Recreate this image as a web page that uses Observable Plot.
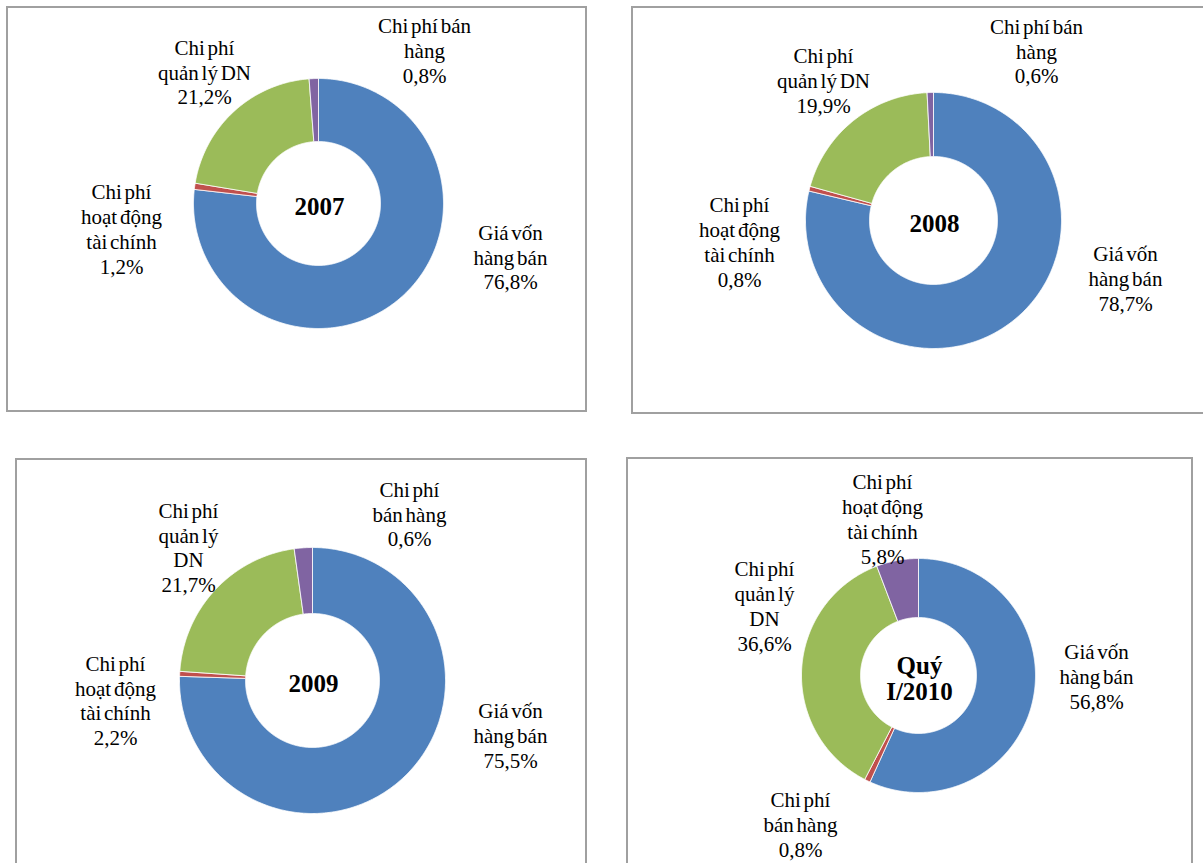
<!DOCTYPE html>
<html lang="vi">
<head>
<meta charset="utf-8">
<title>Cơ cấu chi phí 2007 – Quý I/2010</title>
<script src="https://cdn.jsdelivr.net/npm/d3@7"></script>
<script src="https://cdn.jsdelivr.net/npm/@observablehq/plot@0.6"></script>
<style>
  html, body { margin: 0; padding: 0; background: #fff; }
  #chart { width: 1203px; height: 863px; overflow: hidden; }
  #chart svg text { word-spacing: -2.5px; }
</style>
</head>
<body>
<div id="chart"></div>
<script>
// Cost categories, in slice order (clockwise from 12 o'clock)
const categories = [
  "Giá vốn hàng bán",
  "Chi phí bán hàng",
  "Chi phí quản lý DN",
  "Chi phí hoạt động tài chính"
];
const periods = ["2007", "2008", "2009", "Quý I/2010"];

// Share of total cost (%), per period, same order as categories
const share2007 = [76.8, 0.8, 21.2, 1.2];
const share2008 = [78.7, 0.6, 19.9, 0.8];
const share2009 = [75.5, 0.6, 21.7, 2.2];
const share2010Q1 = [56.8, 0.8, 36.6, 5.8];
const shares = [share2007, share2008, share2009, share2010Q1];

const colors = ["#4F81BD", "#C0504D", "#9BBB59", "#8064A2"];

// Page layout: panel frames, donut geometry and label placement
// (label offsets are relative to the donut centre, in category order)
const layout = [
  {frame: [7, 7, 586, 411], cx: 318, cy: 203, R: 125, r: 62, wrap: 11,
   labels: [[192, 53], [106, -153.5], [-114, -132], [-197, 25]]},
  {frame: [632, 7, 1230, 413], cx: 933, cy: 220, R: 128, r: 64, wrap: 11,
   labels: [[192, 57.5], [103, -170], [-110, -140.5], [-194, 21]]},
  {frame: [16, 459, 586, 900], cx: 312, cy: 680, R: 133, r: 67, wrap: 9,
   labels: [[198, 54.5], [97, -167], [-124, -133.5], [-197, 19.5]]},
  {frame: [627, 458, 1192, 900], cx: 918, cy: 675, R: 117, r: 58, wrap: 9,
   labels: [[178, 0.5], [-118, 148.5], [-154, -70], [-36, -157]]}
];

const W = 1203, H = 863;
const serif = "'Liberation Serif', 'Times New Roman', serif";

// Greedy word wrap by character count
function wrapText(s, max) {
  const words = s.split(" ");
  const lines = [];
  let cur = "";
  for (const w of words) {
    if (cur && (cur + " " + w).length > max) { lines.push(cur); cur = w; }
    else cur = cur ? cur + " " + w : w;
  }
  if (cur) lines.push(cur);
  return lines.join("\n");
}
const fmt = v => v.toFixed(1).replace(".", ",") + "%";

// Ring slices as closed polygons in page coordinates
const pie = d3.pie().sort(null).value(d => d);
const slicePoints = [];
const labelRows = [];
const centerRows = [];
shares.forEach((vals, p) => {
  const L = layout[p];
  pie(vals).forEach((a, i) => {
    const key = p + "-" + i;
    const n = Math.max(2, Math.ceil((a.endAngle - a.startAngle) / (Math.PI / 360)));
    const ring = [];
    for (let k = 0; k <= n; k++) {
      const t = a.startAngle + (a.endAngle - a.startAngle) * k / n;
      ring.push({x: L.cx + L.R * Math.sin(t), y: L.cy - L.R * Math.cos(t)});
    }
    for (let k = n; k >= 0; k--) {
      const t = a.startAngle + (a.endAngle - a.startAngle) * k / n;
      ring.push({x: L.cx + L.r * Math.sin(t), y: L.cy - L.r * Math.cos(t)});
    }
    ring.push(ring[0]);
    ring.forEach(pt => slicePoints.push({...pt, key, category: categories[i]}));

    labelRows.push({
      x: L.cx + L.labels[i][0],
      y: L.cy + L.labels[i][1],
      text: wrapText(categories[i], L.wrap) + "\n" + fmt(a.data)
    });
  });
  centerRows.push({x: L.cx + 1, y: L.cy + 3, text: wrapText(periods[p], 4)});
});

const frames = layout.map(L => ({x1: L.frame[0], y1: L.frame[1], x2: L.frame[2], y2: L.frame[3]}));

const chart = Plot.plot({
  width: W,
  height: H,
  margin: 0,
  x: {domain: [0, W], range: [0, W], axis: null},
  y: {domain: [0, H], range: [0, H], axis: null},
  color: {domain: categories, range: colors},
  style: {background: "white", overflow: "hidden"},
  marks: [
    Plot.rect(frames, {x1: "x1", x2: "x2", y1: "y1", y2: "y2",
      fill: "none", stroke: "#a0a0a0", strokeWidth: 2}),
    Plot.line(slicePoints, {x: "x", y: "y", z: "key", fill: "category",
      stroke: "white", strokeWidth: 0.8, strokeLinejoin: "round"}),
    Plot.text(labelRows, {x: "x", y: "y", text: "text",
      fontSize: 21, lineHeight: 1.19, fontFamily: serif, fill: "black"}),
    Plot.text(centerRows, {x: "x", y: "y", text: "text",
      fontSize: 25, fontWeight: "bold", lineHeight: 1.05, fontFamily: serif, fill: "black"})
  ]
});
document.getElementById("chart").appendChild(chart);
</script>
</body>
</html>
